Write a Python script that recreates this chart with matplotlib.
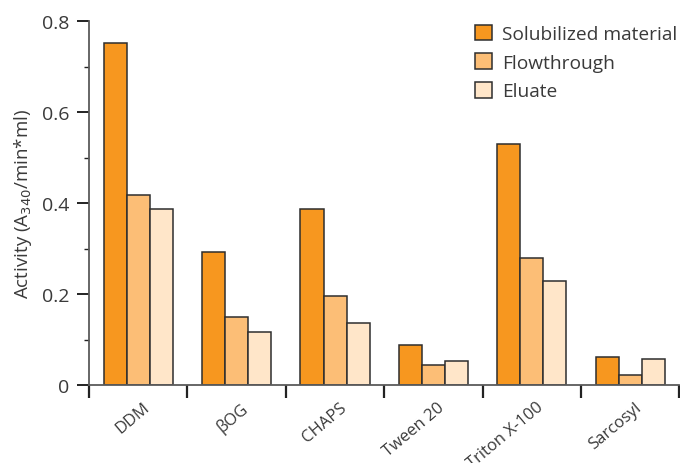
import numpy as np
import matplotlib
matplotlib.use("Agg")
import matplotlib.pyplot as plt
import matplotlib.transforms as mtransforms
from matplotlib.ticker import FixedLocator, FuncFormatter

# detergent screen: activity in each fraction
detergents = ["DDM", "βOG", "CHAPS", "Tween 20", "Triton X-100", "Sarcosyl"]
solubilized = [0.753, 0.293, 0.387, 0.087, 0.531, 0.061]
flowthrough = [0.417, 0.150, 0.196, 0.045, 0.280, 0.023]
eluate = [0.387, 0.117, 0.136, 0.052, 0.228, 0.058]

series_names = ["Solubilized material", "Flowthrough", "Eluate"]
colors = ["#F7971F", "#FCBE76", "#FFE6C9"]

plt.rcParams['font.family'] = ['Open Sans', 'DejaVu Sans']
text_col = "#3a3a3a"
spine_col = "#5a5a5a"

fig = plt.figure(figsize=(6.8, 4.64), dpi=100)
ax = fig.add_axes([0.131, 0.168, 0.868, 0.784])

x = np.arange(len(detergents)) + 0.5
w = 0.234
for i, (vals, name, c) in enumerate(zip([solubilized, flowthrough, eluate], series_names, colors)):
    ax.bar(x + (i - 1) * w, vals, width=w, color=c, edgecolor="#2e2e2e",
           linewidth=1.1, label=name, zorder=2)

ax.set_xlim(0, len(detergents))
ax.set_ylim(0, 0.8)

# group boundaries get ticks, names sit between them
ax.xaxis.set_major_locator(FixedLocator(np.arange(len(detergents) + 1)))
ax.xaxis.set_major_formatter(FuncFormatter(lambda v, p: ""))
ax.xaxis.set_minor_locator(FixedLocator(x))
ax.set_xticklabels(detergents, minor=True, rotation=40, ha="right",
                   rotation_mode="anchor", fontsize=12, color=text_col)
ax.tick_params(axis="x", which="major", length=9, width=1.6, color="#222222")
ax.tick_params(axis="x", which="minor", length=0, pad=10)
shift = mtransforms.ScaledTranslation(3 / 72, 0, fig.dpi_scale_trans)
for lbl in ax.get_xticklabels(minor=True):
    lbl.set_transform(lbl.get_transform() + shift)

ax.yaxis.set_major_locator(FixedLocator([0, 0.2, 0.4, 0.6, 0.8]))
ax.yaxis.set_minor_locator(FixedLocator([0.1, 0.3, 0.5, 0.7]))
ax.yaxis.set_major_formatter(FuncFormatter(lambda v, p: "0" if v == 0 else f"{v:.1f}"))
ax.tick_params(axis="y", which="major", length=9, width=1.4, color="#222222",
               labelsize=14, labelcolor=text_col, pad=5)
ax.tick_params(axis="y", which="minor", length=3.5, width=1.0, color="#222222")

for s in ["top", "right"]:
    ax.spines[s].set_visible(False)
for s in ["left", "bottom"]:
    ax.spines[s].set_color(spine_col)
    ax.spines[s].set_linewidth(1.3)

ax.set_ylabel("Activity (A$_{340}$/min*ml)", fontsize=13.5, color=text_col, labelpad=6)

leg = ax.legend(loc="upper right", bbox_to_anchor=(1.01, 1.012), frameon=False,
                fontsize=13.8, handlelength=0.85, handleheight=0.85,
                handletextpad=0.55, labelspacing=0.55, borderaxespad=0)
for t in leg.get_texts():
    t.set_color(text_col)

fig.savefig("out.png", dpi=100)
